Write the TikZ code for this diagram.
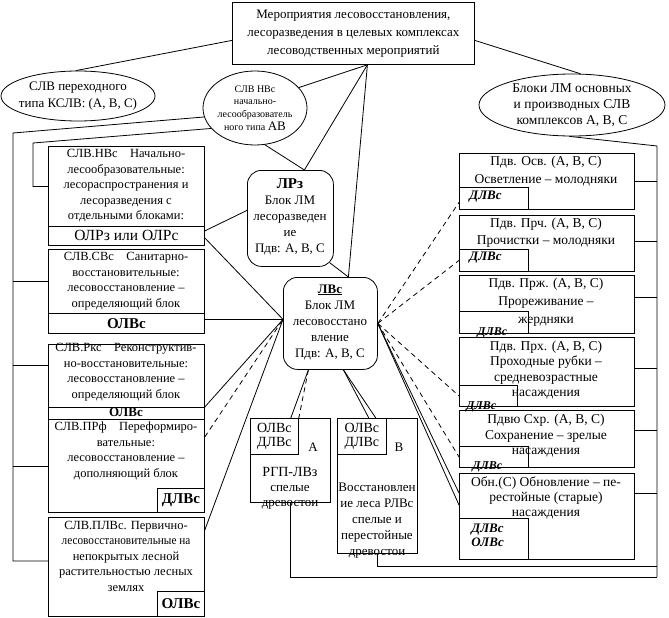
\documentclass[tikz,border=0pt]{standalone}
\usepackage{graphicx}
\usepackage{fontspec}
\setmainfont{Liberation Serif}
\usetikzlibrary{shapes.geometric}

\begin{document}
\begin{tikzpicture}[x=1pt, y=-1pt, line width=0.8pt,
    kasten/.style={draw, rectangle, inner sep=0pt, anchor=north west},
    rund/.style={draw, rectangle, rounded corners=14pt, inner sep=0pt, anchor=north west},
    oval/.style={draw, ellipse, inner sep=0pt},
    txt/.style={align=center, inner sep=0pt, font=\fontsize{12.5}{15.5}\selectfont},
    rtxt/.style={align=center, inner sep=0pt, font=\fontsize{13.5}{15.5}\selectfont},
    fett/.style={align=center, inner sep=0pt, font=\fontsize{15}{15}\selectfont\bfseries},
    klein/.style={align=left, inner sep=0pt, anchor=west, font=\fontsize{13}{14}\selectfont\bfseries\itshape},
    gestrichelt/.style={dash pattern=on 5pt off 4pt}]

    \useasboundingbox (0,0) rectangle (669,618);

    % zeichne Kopfkasten
    \node[kasten, minimum width=242, minimum height=62] (kopf) at (232,2) {};
    \node[txt, font=\fontsize{13}{18}\selectfont] (kopf-t) at (kopf.center) {Мероприятия лесовосстановления,\\лесоразведения в целевых комплексах\\лесоводственных мероприятий};

    % zeichne Ellipsen
    \node[oval, minimum width=154, minimum height=50] (slvk) at (78,96) {};
    \node[txt, font=\fontsize{13}{17}\selectfont] (slvk-t) at (slvk.center) {СЛВ переходного\\типа КСЛВ: (А, В, С)};
    \node[oval, minimum width=104, minimum height=74] (slvnv) at (255,108) {};
    \node[txt, font=\fontsize{10}{12.7}\selectfont] (slvnv-t) at (slvnv.center) {СЛВ НВс\\начально-\\лесообразователь\\ного типа {\fontsize{13}{13}\selectfont АВ}};
    \node[oval, minimum width=186, minimum height=62] (blk) at (572,105) {};
    \node[txt, font=\fontsize{13.5}{16}\selectfont] (blk-t) at (blk.center) {Блоки ЛМ основных\\и производных СЛВ\\комплексов А, В, С};

    % zeichne linke Kaesten
    \node[kasten, minimum width=156, minimum height=80] (nvs) at (48,146) {};
    \node[kasten, minimum width=156, minimum height=19] (olr) at (48,226) {};
    \node[txt] (nvs-t) at (126,186) {СЛВ.НВс\quad Начально-\\лесообразовательные:\\лесораспространения и\\лесоразведения с\\отдельными блоками:};
    \node[txt, font=\fontsize{15.5}{15}\selectfont] (olr-t) at (olr.center) {ОЛРз или ОЛРс};

    \node[kasten, minimum width=156, minimum height=64] (svs) at (48,249) {};
    \node[kasten, minimum width=156, minimum height=20] (svsu) at (48,313) {};
    \node[txt] (svs-t) at (126,281) {СЛВ.СВс\quad Санитарно-\\восстановительные:\\лесовосстановление –\\определяющий блок};
    \node[fett] (svsu-t) at (svsu.center) {ОЛВс};

    \node[kasten, minimum width=156, minimum height=63] (rks) at (48,344) {};
    \node[kasten, minimum width=156, minimum height=12] (rksu) at (48,407) {};
    \node[txt] (rks-t) at (126,372) {СЛВ.Ркс\quad Реконструктив-\\но-восстановительные:\\лесовосстановление –\\определяющий блок};
    \node[fett, font=\fontsize{13}{13}\selectfont\bfseries] (rksu-t) at (126,412) {ОЛВс};

    \node[kasten, minimum width=156, minimum height=93] (prf) at (48,419) {};
    \node[kasten, minimum width=47, minimum height=24] (prfd) at (157,488) {};
    \node[txt] (prf-t) at (126,451) {СЛВ.ПРф\quad Переформиро-\\вательные:\\лесовосстановление –\\дополняющий блок};
    \node[fett] (prfd-t) at (prfd.center) {ДЛВс};

    \node[kasten, minimum width=156, minimum height=99] (plvs) at (48,517) {};
    \node[kasten, minimum width=47, minimum height=25] (plvsd) at (157,591) {};
    \node[txt] (plvs-t) at (126,556) {СЛВ.ПЛВс. Первично-\\\scalebox{0.9}[1]{лесовосстановительные на}\\непокрытых лесной\\растительностью лесных\\землях};
    \node[fett] (plvsd-t) at (plvsd.center) {ОЛВс};

    % zeichne Bloecke in der Mitte
    \node[rund, minimum width=86, minimum height=96] (lrz) at (247,170) {};
    \node[txt, font=\fontsize{13}{16}\selectfont] (lrz-t) at (290,217) {{\fontsize{15}{16}\selectfont\bfseries ЛРз}\\Блок ЛМ\\лесоразведен\\ие\\Пдв: А, В, С};
    \node[rund, minimum width=94, minimum height=92] (lvs) at (283,277) {};
    \node[txt, font=\fontsize{13}{16}\selectfont] (lvs-t) at (330,322) {\textbf{\underline{ЛВс}}\\Блок ЛМ\\лесовосстано\\вление\\Пдв: А, В, С};

    % zeichne Kaesten A und B
    \node[kasten, minimum width=80, minimum height=84] (rgp) at (250,418) {};
    \node[kasten, minimum width=48, minimum height=36] (rgpk) at (250,418) {};
    \node[txt, font=\fontsize{14}{14}\selectfont] (rgpk-t) at (rgpk.center) {ОЛВс\\ДЛВс};
    \node[txt, font=\fontsize{13}{14}\selectfont] (rgp-a) at (313,447) {А};
    \node[txt, font=\fontsize{13}{15}\selectfont] (rgp-t) at (290,488) {{\fontsize{14}{15}\selectfont РГП-ЛВз}\\спелые\\древостои};

    \node[kasten, minimum width=80, minimum height=135] (vl) at (337,418) {};
    \node[kasten, minimum width=49, minimum height=36] (vlk) at (337,418) {};
    \node[txt, font=\fontsize{14}{14}\selectfont] (vlk-t) at (vlk.center) {ОЛВс\\ДЛВс};
    \node[txt, font=\fontsize{13}{14}\selectfont] (vl-b) at (399,447) {В};
    \node[txt, font=\fontsize{13}{16}\selectfont] (vl-t) at (377,521) {Восстановлен\\ие леса\ РЛВс\\спелые и\\перестойные\\древостои};

    % zeichne rechte Kaesten
    \node[kasten, minimum width=175, minimum height=56] (osv) at (459,153) {};
    \node[kasten, minimum width=69, minimum height=22] (osvd) at (459,187) {};
    \node[rtxt, font=\fontsize{13.5}{18}\selectfont] (osv-t) at (546,171) {Пдв. Осв. (А, В, С)\\Осветление – молодняки};
    \node[klein] (osvd-t) at (469,197) {ДЛВс};

    \node[kasten, minimum width=175, minimum height=56] (prc) at (459,215) {};
    \node[kasten, minimum width=69, minimum height=22] (prcd) at (459,249) {};
    \node[rtxt, font=\fontsize{13.5}{17}\selectfont] (prc-t) at (546,233) {Пдв. Прч. (А, В, С)\\Прочистки – молодняки};
    \node[klein] (prcd-t) at (469,258) {ДЛВс};

    \node[kasten, minimum width=175, minimum height=58] (prj) at (459,275) {};
    \node[kasten, minimum width=69, minimum height=22] (prjd) at (459,311) {};
    \node[rtxt, font=\fontsize{13.5}{18}\selectfont] (prj-t) at (546,302) {Пдв. Прж. (А, В, С)\\Прореживание –\\жердняки};
    \node[klein, font=\fontsize{12}{13}\selectfont\bfseries\itshape] (prjd-t) at (477,333) {ДЛВс};

    \node[kasten, minimum width=175, minimum height=69] (prx) at (459,337) {};
    \node[kasten, minimum width=58, minimum height=21] (prxd) at (459,385) {};
    \node[rtxt] (prx-t) at (546,370) {Пдв. Прх. (А, В, С)\\Проходные рубки –\\средневозрастные\\насаждения};
    \node[klein, font=\fontsize{12}{13}\selectfont\bfseries\itshape] (prxd-t) at (466,407) {ДЛВс};

    \node[kasten, minimum width=175, minimum height=57] (sxr) at (459,410) {};
    \node[kasten, minimum width=69, minimum height=21] (sxrd) at (459,446) {};
    \node[rtxt] (sxr-t) at (546,436) {Пдвю Схр. (А, В, С)\\Сохранение – зрелые\\насаждения};
    \node[klein, font=\fontsize{12}{13}\selectfont\bfseries\itshape] (sxrd-t) at (472,467) {ДЛВс};

    \node[kasten, minimum width=175, minimum height=86] (obn) at (459,473) {};
    \node[kasten, minimum width=69, minimum height=41] (obnd) at (459,518) {};
    \node[rtxt, font=\fontsize{13.5}{15}\selectfont] (obn-t) at (546,498) {Обн.(С) Обновление – пе-\\рестойные (старые)\\насаждения};
    \node[klein] (obnd-t) at (471,535) {ДЛВс\\ОЛВс};

    % zeichne Verbindungen oben
    \coordinate (spitze) at ([xshift=14pt]kopf.south);
    \draw ([yshift=-7pt]kopf.west) -- (slvk.95);
    \draw ([yshift=-7pt]kopf.east) -- (blk.75);
    \draw (spitze) -- (slvnv.25);
    \draw (spitze) -- ([xshift=14pt]lrz.north);
    \draw (spitze) -- ([xshift=18pt]lvs.north);
    \draw (slvnv.285) -- ([xshift=14pt]lrz.north);
    \draw ([xshift=-4pt, yshift=4pt]lrz.south east) -- ([xshift=18pt]lvs.north);

    % zeichne linke Klammern
    \coordinate (lk) at (13,133);
    \coordinate (lk2) at (33,143);
    \coordinate (rks-l) at ([yshift=11pt]rks.west);
    \coordinate (plvs-l) at ([yshift=6pt]plvs.west);
    \draw (slvnv.190) -- (lk) |- (plvs-l);
    \draw (lk |- svs.west) -- (svs.west);
    \draw (lk |- rks-l) -- (rks-l);
    \draw (lk |- prf.west) -- (prf.west);
    \draw (slvnv.205) -- (lk2) |- (nvs.west);

    % zeichne Linien zu LRz und LVs
    \coordinate (lvl) at ([yshift=4pt]lvs.west);
    \draw ([yshift=5pt]olr.east) -- ([yshift=8pt]lrz.west);
    \draw ([yshift=-2pt]olr.east) -- (lvl);
    \draw ([yshift=4pt]svsu.east) -- (lvl);
    \draw (rksu.north east) -- (lvl);
    \draw[gestrichelt] ([yshift=-18pt]prf.north east) -- (lvl);
    \draw ([yshift=-13pt]plvs.north east) -- (lvl);

    % zeichne Linien nach unten
    \coordinate (lvu1) at ([xshift=-22pt]lvs.south);
    \coordinate (lvu2) at ([xshift=13pt]lvs.south);
    \draw (lvu1) -- ([xshift=-8pt]rgpk.north east);
    \draw[gestrichelt] (lvu1) -- (rgpk.north east);
    \draw (lvu2) -- ([xshift=-18pt]vlk.north east);
    \draw (lvu2) -- ([xshift=-11pt]vlk.north east);

    % zeichne Linien nach rechts
    \draw[gestrichelt] (lvs.east) -- ([yshift=-4pt]osvd.west);
    \draw[gestrichelt] (lvs.east) -- (prcd.west);
    \draw[gestrichelt] (lvs.east) -- (prxd.west);
    \draw[gestrichelt] (lvs.east) -- (sxrd.west);
    \draw (lvs.east) -- ([yshift=-20pt]obn.north west);
    \draw (lvs.east) -- ([yshift=-32pt]obn.north west);

    % zeichne rechte Klammer
    \coordinate (rk) at (657,146);
    \coordinate (ru) at (657,577);
    \coordinate (ru2) at (657,566);
    \draw (blk.265) -- (rk) -- (ru);
    \foreach \k/\s in {osv/0, prc/2, prj/7, prx/4, sxr/9, obn/23} {
        \coordinate (h\k) at ([yshift=\s pt]\k.east);
        \draw (h\k) -- (h\k -| rk);
    }
    \draw (rgp.south) |- (ru);
    \draw (vl.south) |- (ru2);
\end{tikzpicture}
\end{document}
